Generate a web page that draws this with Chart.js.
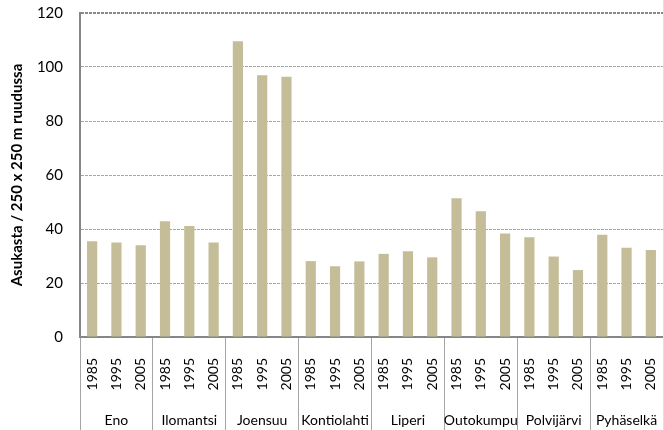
<!DOCTYPE html>
<html>
<head>
<meta charset="utf-8">
<script src="https://cdn.jsdelivr.net/npm/chart.js@4/dist/chart.umd.min.js"></script>
<style>
  html, body { margin: 0; padding: 0; background: #fff; }
  #wrap { width: 663px; height: 430px; position: relative; border-right: 1px solid #e0e0e0; }
</style>
</head>
<body>
<div id="wrap"><canvas id="chart"></canvas></div>
<script>
const municipalities = ['Eno', 'Ilomantsi', 'Joensuu', 'Kontiolahti', 'Liperi', 'Outokumpu', 'Polvijärvi', 'Pyhäselkä'];
const years = ['1985', '1995', '2005'];
const residents = [
    35.5, 35.0, 34.0,
    42.9, 41.1, 35.0,
    109.5, 96.9, 96.4,
    28.1, 26.2, 28.0,
    30.8, 31.8, 29.5,
    51.4, 46.6, 38.3,
    36.9, 29.8, 24.8,
    37.9, 33.1, 32.2
];
const yTicks = [0, 20, 40, 60, 80, 100, 120];

const yearLabels = [];
municipalities.forEach(function () { years.forEach(function (y) { yearLabels.push(y); }); });

const fontFamily = 'Lato, "Liberation Sans", sans-serif';
const sepColor = '#a6a6a6';

new Chart(document.getElementById('chart').getContext('2d'), {
    type: 'bar',
    data: {
        labels: yearLabels,
        datasets: [{
            data: residents,
            backgroundColor: '#c4bd97',
            borderWidth: 0,
            barPercentage: 0.42,
            categoryPercentage: 1
        }]
    },
    options: {
        responsive: true,
        maintainAspectRatio: false,
        animation: false,
        layout: { padding: { top: 13, right: 0, bottom: 0, left: 0 } },
        plugins: {
            legend: { display: false },
            tooltip: { enabled: false }
        },
        scales: {
            x: {
                type: 'category',
                position: 'bottom',
                weight: 0,
                afterFit: function (scale) { scale.height = 58; scale.paddingLeft = 0; scale.paddingRight = 0; },
                grid: {
                    offset: true,
                    drawOnChartArea: false,
                    drawTicks: true,
                    tickLength: 58,
                    lineWidth: 1,
                    color: function (c) {
                        return (c.index === undefined || c.index % 3 === 0) ? sepColor : 'rgba(0,0,0,0)';
                    }
                },
                border: { display: true, color: '#868686', width: 2 },
                ticks: {
                    autoSkip: false,
                    maxRotation: 90,
                    minRotation: 90,
                    padding: -37,
                    color: '#000',
                    font: { family: fontFamily, size: 14 }
                }
            },
            x2: {
                type: 'category',
                position: 'bottom',
                weight: 1,
                labels: municipalities,
                offset: true,
                afterFit: function (scale) { scale.height = 35; scale.paddingLeft = 0; scale.paddingRight = 0; },
                grid: {
                    offset: true,
                    drawOnChartArea: false,
                    drawTicks: true,
                    tickLength: 35,
                    lineWidth: 1,
                    color: sepColor
                },
                border: { display: false },
                ticks: {
                    autoSkip: false,
                    maxRotation: 0,
                    minRotation: 0,
                    padding: -18,
                    color: '#000',
                    font: { family: fontFamily, size: 14 }
                }
            },
            y: {
                min: 0,
                max: 120,
                afterFit: function (scale) { scale.width = 80; scale.paddingTop = 0; scale.paddingBottom = 0; },
                afterBuildTicks: function (scale) {
                    scale.ticks = yTicks.map(function (v) { return { value: v }; });
                },
                grid: {
                    drawTicks: false,
                    color: function (c) { return c.tick && c.tick.value === 120 ? '#8a8a8a' : '#a6a6a6'; },
                    lineWidth: function (c) { return c.tick && c.tick.value === 120 ? 2 : 1; }
                },
                border: { display: true, color: '#868686', width: 2, dash: [3, 1] },
                ticks: {
                    padding: 17,
                    color: '#000',
                    font: { family: fontFamily, size: 15 }
                },
                title: {
                    display: true,
                    text: 'Asukasta / 250 x 250 m ruudussa',
                    color: '#000',
                    padding: { top: 8, bottom: 0 },
                    font: { family: fontFamily, size: 15, weight: 'bold' }
                }
            }
        }
    }
});
</script>
</body>
</html>
